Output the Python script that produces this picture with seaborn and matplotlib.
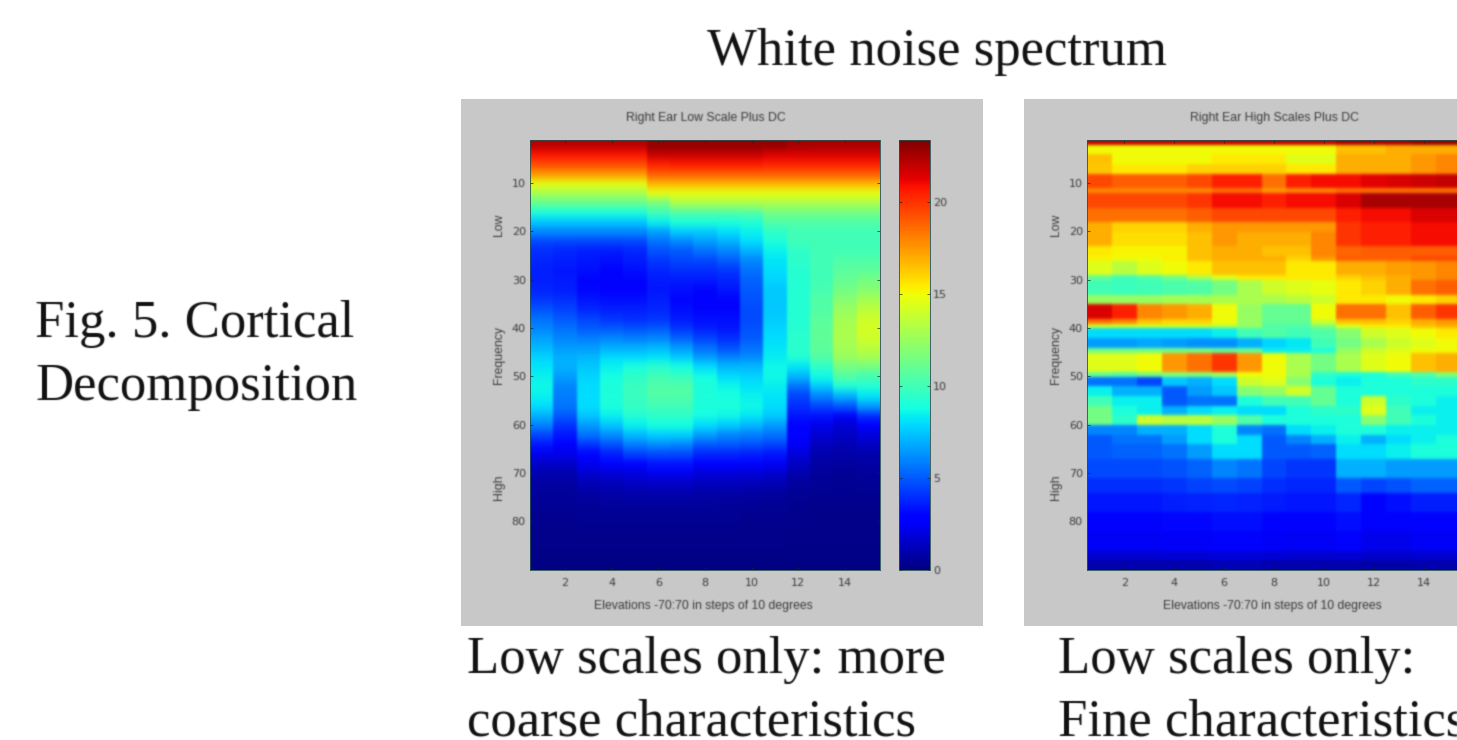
import matplotlib

matplotlib.use("Agg")
import matplotlib.pyplot as plt
import numpy as np
import seaborn as sns
from matplotlib.colors import to_rgb
from matplotlib.patches import Rectangle

W, H = 1457, 740

low_rows = [
    [22.3, 22.3, 22.3, 22.3, 22.3, 23, 23, 23, 23, 23, 23, 22.6, 22.5, 22.5, 22.5],
    [20.8, 20.8, 20.8, 20.8, 20.8, 22, 22, 22, 22, 22, 21.5, 21.5, 21.5, 21.5, 21.5],
    [19.5, 19.5, 19.5, 19.5, 19.5, 20.5, 20.7, 20.7, 20.7, 20.7, 20.5, 20.5, 20.5, 20.5, 20.5],
    [17.5, 17.5, 17.5, 17.5, 17.5, 19, 19, 19, 19, 19, 19, 19, 19, 19, 19],
    [14.8, 14.8, 14.8, 14.8, 14.8, 16.8, 16.8, 16.8, 16.8, 16.8, 16.8, 16.8, 16.8, 16.8, 16.8],
    [13, 13, 13, 13, 13, 14.8, 14.8, 14.8, 14.8, 14.8, 14.8, 14.8, 14.8, 14.8, 14.8],
    [11, 11, 11, 11, 11, 11.5, 13, 13, 13, 13, 13, 13, 13, 13, 13],
    [9, 9, 9, 9, 9, 10, 10.5, 10.5, 10.5, 10.5, 11.5, 11.5, 11.5, 11.5, 11.5],
    [7.5, 7.5, 7.5, 7.5, 7.5, 8.5, 9, 9, 9, 9.2, 10.5, 10.5, 10.5, 10.5, 10.5],
    [6, 6, 6, 6, 6, 6.5, 7.5, 7.5, 8, 8.5, 9.5, 10, 10, 10, 10],
    [4.5, 4.5, 4.5, 4.5, 4.5, 5.5, 6, 6.5, 7, 8, 9, 10, 10, 10, 10],
    [4, 3.8, 3.6, 3.5, 3.8, 4.8, 5, 5.5, 6, 7, 8.5, 9.5, 10, 10, 10],
    [3.8, 3.6, 3.4, 3.2, 3.5, 4.2, 4.5, 4.5, 5, 6, 8.2, 9.5, 10, 10.5, 10.5],
    [3.6, 3.4, 3.2, 3, 3.2, 3.8, 4, 4, 4.2, 5.5, 8, 9.3, 10, 10.7, 10.8],
    [3.6, 3.5, 3, 2.9, 3, 3.5, 3.5, 3.5, 3.8, 5.2, 7.8, 9.2, 10, 11, 11.5],
    [3.8, 3.6, 3.1, 3, 3, 3.4, 3.2, 3, 3.4, 5, 7.5, 9.2, 10.2, 11.5, 12],
    [4.2, 4, 3.4, 3.2, 3.2, 3.6, 3, 2.9, 3, 4.8, 7.5, 9.2, 10.5, 12, 12.8],
    [4.8, 4.4, 3.8, 3.6, 3.6, 3.8, 3.2, 3, 3, 4.6, 7.5, 9.2, 10.5, 12.5, 13.5],
    [5.5, 5, 4.5, 4.2, 4, 4.2, 3.5, 3.2, 3.2, 4.6, 7.6, 9.2, 10.7, 12.8, 14],
    [6, 5.5, 5, 5, 4.8, 5, 4.2, 3.6, 3.4, 4.8, 7.8, 9.3, 10.8, 13, 14.2],
    [6.6, 6, 5.8, 6, 5.8, 6, 5.2, 4.4, 4, 5, 8, 9.4, 10.8, 13, 14],
    [7.2, 6.5, 6.5, 7, 7, 7.2, 6.5, 5.5, 4.8, 5.5, 8.2, 9.4, 10.8, 12.8, 13.5],
    [7.8, 7, 7.2, 8, 8, 8.2, 7.6, 6.5, 6, 6.2, 8.4, 9.2, 10.5, 12.5, 12.8],
    [8.2, 7, 7.5, 8.5, 9, 9.4, 8.8, 8, 7.2, 7.2, 8.6, 8.2, 9.5, 11.5, 11.5],
    [8.5, 6.5, 7.8, 8.8, 9.5, 10, 9.8, 8.8, 8, 7.8, 8.6, 7, 8.6, 10.5, 10],
    [8.6, 6, 8, 9, 9.8, 10.5, 10.5, 9, 8.6, 8.2, 8.4, 5.5, 7.5, 9, 9.2],
    [8.5, 5.8, 8, 9, 9.8, 10.5, 10.5, 9, 8.8, 8.5, 8.2, 4.5, 6, 7, 8.2],
    [8, 5.6, 8, 9, 9.6, 10, 10, 9, 9, 8.6, 8, 4, 4.5, 5, 6.5],
    [7, 5, 7.5, 8.5, 9.2, 9.5, 9.5, 8.8, 8.6, 8.3, 7.6, 3.4, 3.3, 2.5, 4],
    [6, 4.2, 6.5, 7.5, 8.5, 8.8, 8.8, 8, 7.6, 7.2, 6.5, 3, 2.2, 1.8, 2.8],
    [4.5, 3.4, 5.5, 6.2, 7.2, 7.6, 7.6, 6.5, 6, 5.8, 5.5, 2.8, 1.7, 1.4, 1.9],
    [3.4, 2.8, 4.2, 4.8, 5.8, 6.2, 6, 5, 5, 4.8, 4.5, 2.4, 1.3, 1.1, 1.4],
    [2.2, 2.2, 3, 3.6, 4.4, 4.6, 4.6, 3.8, 3.8, 3.6, 3.4, 1.9, 1, 0.9, 1],
    [1.5, 1.5, 2.3, 2.6, 3, 3.3, 3.3, 2.8, 2.8, 2.6, 2.4, 1.4, 0.8, 0.7, 0.8],
    [1, 1, 1.6, 1.8, 2, 2.3, 2.3, 1.9, 1.9, 1.8, 1.6, 1, 0.6, 0.5, 0.6],
    [0.8, 0.8, 1.1, 1.2, 1.4, 1.5, 1.5, 1.3, 1.3, 1.2, 1.1, 0.7, 0.5, 0.4, 0.5],
    [0.6, 0.6, 0.8, 0.9, 1, 1, 1, 0.9, 0.9, 0.8, 0.7, 0.5, 0.4, 0.4, 0.4],
    [0.5, 0.5, 0.6, 0.7, 0.7, 0.7, 0.7, 0.7, 0.6, 0.6, 0.5, 0.4, 0.3, 0.3, 0.3],
    [0.4, 0.4, 0.5, 0.5, 0.5, 0.5, 0.5, 0.5, 0.5, 0.4, 0.4, 0.3, 0.3, 0.3, 0.3],
    [0.3, 0.3, 0.4, 0.4, 0.4, 0.4, 0.4, 0.4, 0.4, 0.3, 0.3, 0.3, 0.2, 0.2, 0.2],
    [0.3, 0.3, 0.3, 0.3, 0.3, 0.3, 0.3, 0.3, 0.3, 0.3, 0.3, 0.2, 0.2, 0.2, 0.2],
    [0.2, 0.2, 0.2, 0.2, 0.2, 0.2, 0.2, 0.2, 0.2, 0.2, 0.2, 0.2, 0.2, 0.2, 0.2],
    [0.1, 0.1, 0.1, 0.1, 0.1, 0.1, 0.1, 0.1, 0.1, 0.1, 0.1, 0.1, 0.1, 0.1, 0.1],
]
low_bins = [2] * 40 + [3] * 3

high_rows = [
    [22, 22, 22, 22, 22, 22, 22, 22, 22, 22, 22.5, 22.5, 22.5, 23, 23],
    [15, 15, 15, 15, 15, 15, 15, 15, 15, 15, 16.5, 16.5, 17, 17, 17],
    [16.5, 15, 15, 15, 15, 15.5, 15.5, 15.5, 14.6, 14.6, 17, 17, 17, 17.5, 18],
    [16.3, 15.5, 15.5, 15.5, 16, 16, 16, 16, 15.5, 15.5, 17, 17, 17, 17.5, 18],
    [19.5, 19, 19, 19, 19.5, 20.5, 20.5, 18.5, 20.5, 21, 21, 21.3, 21.5, 21.8, 22],
    [18, 18, 18, 18, 18, 18.5, 18.5, 17.5, 18, 18, 18.5, 18.5, 18.5, 18.5, 18.5],
    [19.5, 19.5, 19.5, 19.5, 20, 21, 21, 20.5, 21, 21, 21.5, 22.5, 22.5, 22.5, 22.5],
    [18.5, 18.5, 18.5, 18.5, 19, 19.5, 19.5, 19.5, 19.5, 19.5, 20.5, 21, 21, 21.5, 21.5],
    [17, 16, 16, 16, 17, 17.5, 17.5, 17.5, 17.5, 17.5, 20, 20.5, 20.5, 21, 21],
    [17, 15.8, 15.8, 15.8, 16.5, 17.5, 17, 17, 17, 18, 20, 20.5, 20.5, 21, 21],
    [15.5, 15.2, 15.2, 15.2, 16.5, 17, 17, 16.5, 16.5, 18, 18.8, 19, 19, 19, 19],
    [15.2, 15, 15, 15.3, 16.5, 17, 17, 17, 16, 17.5, 19, 19, 19, 19.5, 19.5],
    [14.5, 13.5, 14.5, 15, 15.5, 16.5, 16.5, 16.5, 15.5, 15.5, 17, 17, 17.3, 17.5, 18],
    [11, 10, 10.5, 11.5, 13, 14.5, 15.5, 15.5, 15.5, 15.5, 16, 16.5, 17, 17.5, 18],
    [10, 9.8, 10, 10.3, 10.5, 11.5, 13, 14, 14.5, 14.8, 15.5, 16, 17, 18.5, 19],
    [12.5, 12.5, 12.5, 12.8, 12.8, 13, 13, 13, 13.5, 14, 15.5, 15.5, 15, 15.5, 16],
    [21.5, 20.5, 18, 17.5, 17, 15, 12.5, 11, 11, 15, 18.5, 18.5, 16.5, 19, 20],
    [18.5, 18, 16.5, 16, 16, 15, 12.5, 11, 11, 14, 16.5, 16.5, 16, 17, 17.5],
    [14, 14, 14, 14, 14, 13.5, 12.5, 10.5, 10.5, 12, 14.5, 15.5, 15.5, 16.5, 17],
    [8, 8, 8, 8, 8, 8.5, 10, 10.5, 10, 10.5, 12, 14, 14.5, 15, 15.5],
    [6.5, 6.5, 6.8, 6.5, 6.3, 6.3, 7, 7.8, 8.3, 10, 11.5, 13, 14, 14.5, 15],
    [11.5, 11.5, 11.5, 11.5, 11.5, 11, 11, 8.5, 8.5, 9, 12.5, 14, 14.5, 15, 15],
    [14.5, 14.5, 15, 17.5, 18.5, 20, 17.5, 15, 13, 11.5, 13, 14.5, 15, 16.5, 17],
    [11, 10.5, 11.5, 12, 12, 13, 15, 15, 13, 9.5, 9, 9, 10, 10.5, 12],
    [5.5, 5.5, 4.5, 7.5, 7, 8, 14, 14.5, 12, 9, 8.5, 9, 9, 9.5, 9.5],
    [8.5, 7, 7, 5, 6.5, 7.5, 12, 12.5, 14, 11, 9, 9, 9, 9, 9],
    [10, 8.5, 8.5, 5, 5.5, 5.5, 9, 10, 10, 11, 9, 14, 9.5, 9, 8.5],
    [11.5, 9, 8.5, 7, 8, 8.5, 8, 8, 9, 9.5, 9.5, 14.6, 10, 8.5, 8.5],
    [11.5, 9.5, 14, 13.5, 13.5, 12.5, 10.5, 9, 9, 9, 9, 12, 10, 9, 8.5],
    [6, 6, 7, 7, 8, 9, 6, 5.5, 8, 8.5, 9, 9, 8.5, 8.5, 8.5],
    [5, 5.5, 5.5, 6.5, 8, 9, 8, 5, 6, 7, 8.5, 7, 8, 8.5, 9],
    [5, 5.2, 5.2, 5.5, 6.5, 8, 8, 5, 5, 5.2, 8, 8, 8.5, 9, 9],
    [4.6, 4.6, 4.6, 4.8, 5.2, 6, 5.6, 4.5, 4.2, 4.2, 7, 7, 6.5, 6.5, 6.5],
    [4, 4, 4, 4.2, 4.4, 4.6, 4.4, 4, 3.8, 3.8, 5, 4.5, 4.8, 5.2, 5.2],
    [3.4, 3.4, 3.4, 3.6, 3.7, 3.8, 3.7, 3.5, 3.4, 3.4, 3.8, 3, 3.2, 3.6, 3.6],
    [3, 3, 3, 3.1, 3.1, 3.2, 3.2, 3, 3, 3, 3.2, 2.7, 2.7, 3, 3],
    [2.4, 2.4, 2.4, 2.5, 2.5, 2.6, 2.6, 2.5, 2.4, 2.4, 2.6, 2.2, 2.2, 2.4, 2.4],
    [1.7, 1.7, 1.7, 1.8, 1.8, 1.9, 1.9, 1.8, 1.7, 1.7, 1.8, 1.6, 1.6, 1.7, 1.7],
    [1, 1, 1, 1, 1, 1.1, 1.1, 1, 1, 1, 1, 0.9, 0.9, 1, 1],
]
high_bins = [1, 2, 2, 2, 3, 1, 3, 3, 2, 3, 2, 1, 3, 1, 3, 2, 3, 1, 1, 2, 2, 1, 4,
             1, 2, 2, 2, 2, 2, 2, 2, 3, 4, 3, 4, 4, 4, 2, 2]

elevation_ticks = [2, 4, 6, 8, 10, 12, 14]
freq_ticks = [10, 20, 30, 40, 50, 60, 70, 80]
cbar_ticks = [0, 5, 10, 15, 20]
vmax = 23.4

GREY = "#c8c8c8"
INK = "#3a3a3a"
SERIF = "Liberation Serif"
SANS = "Liberation Sans"


def kernel(sigma):
    r = int(np.ceil(sigma * 3))
    k = np.exp(-0.5 * (np.arange(-r, r + 1) / sigma) ** 2)
    return k / k.sum()


def smear(img, sy, sx):
    out = img
    for axis, sigma in ((0, sy), (1, sx)):
        k = kernel(sigma)
        r = len(k) // 2
        pad = [(0, 0)] * 3
        pad[axis] = (r, r)
        padded = np.pad(out, pad, mode="edge")
        out = np.apply_along_axis(lambda v: np.convolve(v, k, mode="valid"), axis, padded)
    return out


def mesh_soft(sy, sx):
    def apply(img, dpi):
        return smear(img, sy, sx), 0, 0
    return apply


def text_soft(colour, sigma):
    rgb = to_rgb(colour)

    def apply(img, dpi):
        pad = 3
        alpha = np.pad(img[:, :, 3:4], ((pad, pad), (pad, pad), (0, 0)))
        alpha = smear(alpha, sigma, sigma)
        out = np.zeros(alpha.shape[:2] + (4,))
        out[:, :, :3] = rgb
        out[:, :, 3] = alpha[:, :, 0]
        return out, -pad, -pad
    return apply


def px_axes(fig, left, top, right, bottom):
    return fig.add_axes([left / W, 1 - bottom / H, (right - left) / W, (bottom - top) / H])


def small_text(fig, x, y, s, rotation=0):
    t = fig.text(x / W, 1 - y / H, s, rotation=rotation, ha="center", va="center",
                 fontsize=8.8, color=INK, family=SANS)
    t.set_agg_filter(text_soft(INK, 0.7))


def panel(fig, rows, bins, rect, title, xlabel, blur, cbar_rect=None):
    data = np.repeat(np.array(rows), bins, axis=0)
    ax = px_axes(fig, *rect)
    cax = px_axes(fig, *cbar_rect) if cbar_rect else None
    sns.heatmap(data, ax=ax, cmap="jet", vmin=0, vmax=vmax, cbar=cax is not None,
                cbar_ax=cax, xticklabels=False, yticklabels=False)
    ax.collections[0].set_agg_filter(mesh_soft(*blur))
    ax.set_xticks([t - 0.5 for t in elevation_ticks], labels=elevation_ticks)
    ax.set_yticks([t - 1.1 for t in freq_ticks], labels=freq_ticks)
    ax.tick_params(direction="in", length=2.5, width=0.5, top=True, right=True,
                   labelsize=8, labelcolor=INK, pad=3, color="#222222")
    ax.tick_params(axis="x", pad=6)
    for lab in ax.get_xticklabels() + ax.get_yticklabels():
        lab.set_agg_filter(text_soft(INK, 0.7))
    for s in ax.spines.values():
        s.set_visible(True)
        s.set_linewidth(0.6)
        s.set_color("#27504f")
    left, top, right, bottom = rect
    mid = (left + right) / 2
    small_text(fig, mid + 1, 118, title)
    small_text(fig, mid - 2, 606, xlabel)
    for label, y in (("Low", 225), ("Frequency", 355), ("High", 487)):
        small_text(fig, left - 31, y, label, rotation=90)
    if cax is not None:
        cax.set_yticks(cbar_ticks, labels=cbar_ticks)
        cax.tick_params(direction="in", length=2.5, width=0.5, left=True, right=True,
                        labelsize=8, labelcolor=INK, pad=2, color="#222222")
        for lab in cax.get_yticklabels():
            lab.set_agg_filter(text_soft(INK, 0.7))
        outline = ax.collections[0].colorbar.outline
        outline.set_visible(True)
        outline.set_linewidth(0.6)
        outline.set_edgecolor("#27504f")
    return ax


fig = plt.figure(figsize=(W / 100, H / 100), dpi=100, facecolor="white")

for x0, x1 in ((461, 983), (1024, 1500)):
    fig.add_artist(Rectangle((x0 / W, 1 - 626 / H), (x1 - x0) / W, 527 / H,
                             transform=fig.transFigure, facecolor=GREY, edgecolor="none", zorder=-1))

panel(fig, low_rows, low_bins, (530, 140, 880, 570), "Right Ear Low Scale Plus DC",
      "Elevations -70:70 in steps of 10 degrees", (4, 1.2), cbar_rect=(899, 140, 930, 570))
panel(fig, high_rows, high_bins, (1087, 140, 1461, 570), "Right Ear High Scales Plus DC",
      "Elevations -70:70 in steps of 10 degrees", (1.6, 1.2))

captions = [
    ("White noise spectrum", 707, 65),
    ("Fig. 5. Cortical", 35, 337),
    ("Decomposition", 35, 400),
    ("Low scales only: more", 467, 673),
    ("coarse characteristics", 467, 736),
    ("Low scales only:", 1058, 673),
    ("Fine characteristics", 1058, 736),
]
for text, x, y in captions:
    t = fig.text(x / W, 1 - y / H, text, ha="left", va="baseline", fontsize=38, family=SERIF, color="#111111")
    t.set_agg_filter(text_soft("#111111", 0.6))

fig.savefig("out.png", dpi=100)
